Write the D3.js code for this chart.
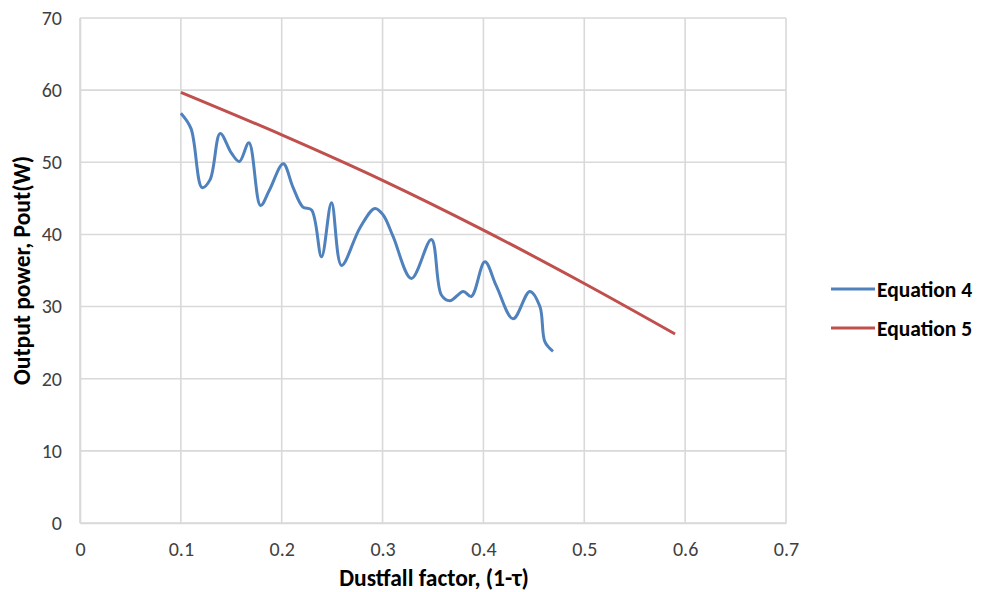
<!DOCTYPE html>
<html><head><meta charset="utf-8">
<script src="https://cdn.jsdelivr.net/npm/d3@7"></script>
<style>body{margin:0;background:#fff}svg{display:block}</style>
</head><body><svg id="c" width="984" height="592"></svg>
<script>
const xTicks = [0, 0.1, 0.2, 0.3, 0.4, 0.5, 0.6, 0.7];
const yTicks = [0, 10, 20, 30, 40, 50, 60, 70];
const seriesNames = ["Equation 4", "Equation 5"];
const eq4X = [0.100,0.110,0.121,0.129,0.139,0.150,0.158,0.1675,0.179,0.188,0.2015,0.211,0.221,0.2296,0.2395,0.2494,0.2593,0.2775,0.2924,0.3006,0.3105,0.3286,0.3484,0.3583,0.3667,0.380,0.388,0.4014,0.413,0.4294,0.446,0.456,0.461,0.469];
const eq4Y = [56.8,54.7,46.5,47.6,54.0,51.3,50.1,52.7,44.0,46.2,49.8,46.6,43.8,43.4,36.9,44.4,35.7,40.9,43.6,42.7,39.7,33.9,39.3,31.6,30.8,32.1,31.4,36.2,32.8,28.3,32.1,30.0,25.1,23.8];
const eq5X = [0.10, 0.20, 0.30, 0.40, 0.50, 0.59];
const eq5Y = [59.7, 53.8, 47.5, 40.6, 33.2, 26.2];

const svg = d3.select("#c");
const m = {l:80, r:198, t:18, b:69};
const W = 984, H = 592;
const x = d3.scaleLinear().domain([0,0.7]).range([m.l, W-m.r]);
const y = d3.scaleLinear().domain([0,70]).range([H-m.b, m.t]);
const font = "Calibri, Carlito, 'Open Sans', sans-serif";

// grid
svg.append("g").selectAll("line").data(yTicks).join("line")
  .attr("x1", x(0)).attr("x2", x(0.7)).attr("y1", d=>y(d)).attr("y2", d=>y(d))
  .attr("stroke", "#d9d9d9").attr("stroke-width", 1.6);
svg.append("g").selectAll("line").data(xTicks).join("line")
  .attr("y1", y(0)).attr("y2", y(70)).attr("x1", d=>x(d)).attr("x2", d=>x(d))
  .attr("stroke", "#d9d9d9").attr("stroke-width", 1.6);

// axes
const xa = svg.append("g").attr("transform", `translate(0,${y(0)})`)
  .call(d3.axisBottom(x).tickValues(xTicks).tickSize(0).tickPadding(19).tickFormat(d=>d3.format("")(d)));
xa.select(".domain").attr("stroke", "#d9d9d9").attr("stroke-width", 1.6);
const ya = svg.append("g").attr("transform", `translate(${x(0)},0)`)
  .call(d3.axisLeft(y).tickValues(yTicks).tickSize(0).tickPadding(18));
ya.select(".domain").attr("stroke", "#d9d9d9").attr("stroke-width", 1.6);
svg.selectAll(".tick text").attr("font-family", font).attr("font-size", 20).attr("fill", "#404040");

// lines
const eq4 = eq4X.map((v,i)=>[v, eq4Y[i]]);
const eq5 = eq5X.map((v,i)=>[v, eq5Y[i]]);
const line = d3.line().x(d=>x(d[0])).y(d=>y(d[1])).curve(d3.curveCatmullRom.alpha(0.5));
svg.append("path").datum(eq5).attr("d", line).attr("fill","none").attr("stroke","#c0504d").attr("stroke-width",3);
svg.append("path").datum(eq4).attr("d", line).attr("fill","none").attr("stroke","#4f81bd").attr("stroke-width",3);

// titles
svg.append("text").attr("x", 434).attr("y", 586).attr("text-anchor","middle")
  .attr("font-family", font).attr("font-weight","bold").attr("font-size",23.5).attr("fill","#000")
  .text("Dustfall factor, (1-τ)");
svg.append("text").attr("transform", `translate(30,${(y(0)+y(70))/2}) rotate(-90)`).attr("text-anchor","middle")
  .attr("font-family", font).attr("font-weight","bold").attr("font-size",23.5).attr("fill","#000")
  .text("Output power, Pout(W)");

// legend
const colors = ["#4f81bd", "#c0504d"];
const lg = svg.append("g").selectAll("g").data(seriesNames).join("g")
  .attr("transform", (d,i)=>`translate(831,${289 + i*39})`);
lg.append("line").attr("x1",0).attr("x2",44).attr("stroke",(d,i)=>colors[i]).attr("stroke-width",3);
lg.append("text").attr("x",46).attr("y",7.5).attr("font-family",font).attr("font-weight","bold")
  .attr("font-size",21.5).attr("fill","#000").text(d=>d);
</script></body></html>
